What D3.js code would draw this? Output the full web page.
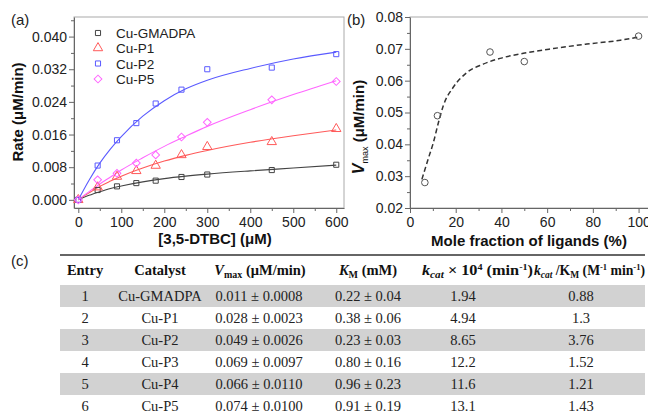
<html>
<head>
<meta charset="UTF-8">
<title>Cu catalysts kinetics</title>
<script src="https://d3js.org/d3.v7.min.js"></script>
<style>
  body { margin: 0; background: #fff; }
  .tick text { font: 14px "Liberation Sans", Arial, sans-serif; fill: #222; }
  .axis path, .axis line { stroke: #666; }
  .lbl { font: 15px "Liberation Sans", Arial, sans-serif; fill: #222; }
  .leg { font: 13.5px "Liberation Sans", Arial, sans-serif; fill: #222; }
  .ttl { font: bold 15px "Liberation Sans", Arial, sans-serif; fill: #111; }
  .tbl { font: 14.5px "Liberation Serif", "Times New Roman", serif; fill: #222; }
  .tblh { font: bold 14.5px "Liberation Serif", "Times New Roman", serif; fill: #111; }
</style>
</head>
<body>
<svg width="648" height="419"></svg>
<script>
// ---- panel (a) data: initial rate vs [3,5-DTBC]
var rateX = [0, 45, 90, 135, 180, 240, 300, 450, 600];
var rateGMADPA = [0, 0.0024, 0.0033, 0.0041, 0.0047, 0.0056, 0.0062, 0.0073, 0.0086];
var rateP1 = [0, 0.0031, 0.0057, 0.0071, 0.0084, 0.0110, 0.0130, 0.0142, 0.0174];
var rateP2 = [0, 0.0084, 0.0146, 0.0188, 0.0236, 0.0270, 0.0320, 0.0324, 0.0357];
var rateP5 = [0, 0.0049, 0.0065, 0.0090, 0.0110, 0.0154, 0.0190, 0.0245, 0.0290];
// fitted curves
var fitX = [0, 25, 50, 75, 100, 150, 200, 250, 300, 400, 500, 600];
var fitGMADPA = [0, 0.0011, 0.0020, 0.0028, 0.0034, 0.0044, 0.0052, 0.0058, 0.0063, 0.0071, 0.0078, 0.0085];
var fitP1 = [0, 0.0017, 0.0033, 0.0046, 0.0058, 0.0078, 0.0095, 0.0109, 0.0121, 0.0141, 0.0157, 0.0171];
var fitP2 = [0, 0.0048, 0.0090, 0.0125, 0.0155, 0.0205, 0.0243, 0.0272, 0.0293, 0.0322, 0.0345, 0.0362];
var fitP5 = [0, 0.0020, 0.0039, 0.0056, 0.0073, 0.0103, 0.0131, 0.0156, 0.0180, 0.0221, 0.0258, 0.0292];
var seriesNames = ['Cu-GMADPA', 'Cu-P1', 'Cu-P2', 'Cu-P5'];
var rateTicks = [0, 0.008, 0.016, 0.024, 0.032, 0.040];
var concTicks = [0, 100, 200, 300, 400, 500, 600];

// ---- panel (b) data: Vmax vs mole fraction
var moleFrac = [6.5, 12, 35, 50, 100];
var vmaxVals = [0.028, 0.049, 0.069, 0.066, 0.074];
var vfitX = [5.2, 8, 10.2, 12.5, 14.6, 19, 24.8, 32, 39.4, 49.6, 62.8, 77.4, 92, 100];
var vfitY = [0.029, 0.0355, 0.0405, 0.047, 0.0522, 0.0580, 0.0625, 0.0652, 0.0670, 0.0686, 0.0701, 0.0715, 0.0727, 0.0737];
var vTicks = [0.02, 0.03, 0.04, 0.05, 0.06, 0.07, 0.08];
var fracTicks = [0, 20, 40, 60, 80, 100];

// ---- panel (c) table
var entries = ['1', '2', '3', '4', '5', '6'];
var catalysts = ['Cu-GMADPA', 'Cu-P1', 'Cu-P2', 'Cu-P3', 'Cu-P4', 'Cu-P5'];
var vmaxText = ['0.011 \u00b1 0.0008', '0.028 \u00b1 0.0023', '0.049 \u00b1 0.0026', '0.069 \u00b1 0.0097', '0.066 \u00b1 0.0110', '0.074 \u00b1 0.0100'];
var kmText = ['0.22 \u00b1 0.04', '0.38 \u00b1 0.06', '0.23 \u00b1 0.03', '0.80 \u00b1 0.16', '0.96 \u00b1 0.23', '0.91 \u00b1 0.19'];
var kcatText = ['1.94', '4.94', '8.65', '12.2', '11.6', '13.1'];
var ratioText = ['0.88', '1.3', '3.76', '1.52', '1.21', '1.43'];

var svg = d3.select('svg');
var colors = ['#444', '#ff5a5a', '#5a5aff', '#ff66ff'];

// ================= panel (a)
var ax = { left: 74, right: 344, top: 17, bottom: 208 };
var xa = d3.scaleLinear().domain([-10, 618]).range([ax.left, ax.right]);
var ya = d3.scaleLinear().domain([-0.002, 0.0448]).range([ax.bottom, ax.top]);

svg.append('rect').attr('x', ax.left).attr('y', ax.top)
  .attr('width', ax.right - ax.left).attr('height', ax.bottom - ax.top)
  .attr('fill', 'none').attr('stroke', '#aaa');

function minorAxis(g, axisFn, scale, vals) {
  g.append('g').attr('class', 'axis').call(axisFn(scale).tickValues(vals).tickSize(3).tickFormat(''))
    .select('.domain').remove();
}

var gxa = svg.append('g').attr('transform', 'translate(0,' + ax.bottom + ')');
gxa.append('g').attr('class', 'axis')
  .call(d3.axisBottom(xa).tickValues(concTicks).tickSize(5).tickPadding(4).tickSizeOuter(0));
minorAxis(gxa, d3.axisBottom, xa, [50, 150, 250, 350, 450, 550]);

var gya = svg.append('g').attr('transform', 'translate(' + ax.left + ',0)');
gya.append('g').attr('class', 'axis')
  .call(d3.axisLeft(ya).tickValues(rateTicks).tickFormat(d3.format('.3f')).tickSize(5).tickPadding(2).tickSizeOuter(0));
minorAxis(gya, d3.axisLeft, ya, [0.004, 0.012, 0.020, 0.028, 0.036, 0.044]);

svg.append('text').attr('class', 'ttl').attr('text-anchor', 'middle')
  .attr('x', 215).attr('y', 244).text('[3,5-DTBC] (\u03bcM)');
svg.append('text').attr('class', 'ttl').attr('text-anchor', 'middle')
  .attr('transform', 'translate(23,112) rotate(-90)').text('Rate (\u03bcM/min)');

var fits = [fitGMADPA, fitP1, fitP2, fitP5];
var rates = [rateGMADPA, rateP1, rateP2, rateP5];
var lineA = d3.line().x(function (d) { return xa(d[0]); }).y(function (d) { return ya(d[1]); })
  .curve(d3.curveMonotoneX);

fits.forEach(function (f, i) {
  svg.append('path').datum(fitX.map(function (x, j) { return [x, f[j]]; }))
    .attr('d', lineA).attr('fill', 'none').attr('stroke', colors[i]).attr('stroke-width', 1.1);
});

var symbols = [
  d3.symbol().type(d3.symbolSquare).size(26),
  d3.symbol().type(d3.symbolTriangle).size(38),
  d3.symbol().type(d3.symbolSquare).size(26),
  d3.symbol().type(d3.symbolSquare).size(30)
];
var rotations = [0, 0, 0, 45];

rates.forEach(function (r, i) {
  svg.append('g').selectAll('path').data(rateX.map(function (x, j) { return [x, r[j]]; }))
    .enter().append('path')
    .attr('transform', function (d) { return 'translate(' + xa(d[0]) + ',' + ya(d[1]) + ') rotate(' + rotations[i] + ')'; })
    .attr('d', symbols[i]()).attr('fill', 'none').attr('stroke', colors[i]).attr('stroke-width', 1);
});

// legend
var legY = [33, 48, 63.5, 79];
seriesNames.forEach(function (n, i) {
  svg.append('path').attr('transform', 'translate(98,' + legY[i] + ') rotate(' + rotations[i] + ')')
    .attr('d', symbols[i]()).attr('fill', 'none').attr('stroke', colors[i]);
  svg.append('text').attr('class', 'leg').attr('x', 116).attr('y', legY[i] + 5).text(n);
});

svg.append('text').attr('class', 'lbl').attr('x', 11).attr('y', 25).text('(a)');

// ================= panel (b)
var bx = { left: 410, right: 650, top: 17, bottom: 208 };
var xb = d3.scaleLinear().domain([0, 105]).range([bx.left, bx.right]);
var yb = d3.scaleLinear().domain([0.02, 0.08]).range([bx.bottom, bx.top]);

svg.append('rect').attr('x', bx.left).attr('y', bx.top)
  .attr('width', bx.right - bx.left).attr('height', bx.bottom - bx.top)
  .attr('fill', 'none').attr('stroke', '#aaa');

var gxb = svg.append('g').attr('transform', 'translate(0,' + bx.bottom + ')');
gxb.append('g').attr('class', 'axis')
  .call(d3.axisBottom(xb).tickValues(fracTicks).tickSize(5).tickPadding(4).tickSizeOuter(0));
minorAxis(gxb, d3.axisBottom, xb, [10, 30, 50, 70, 90]);

var gyb = svg.append('g').attr('transform', 'translate(' + bx.left + ',0)');
gyb.append('g').attr('class', 'axis')
  .call(d3.axisLeft(yb).tickValues(vTicks).tickFormat(d3.format('.2f')).tickSize(5).tickPadding(2).tickSizeOuter(0));
minorAxis(gyb, d3.axisLeft, yb, [0.025, 0.035, 0.045, 0.055, 0.065, 0.075]);

svg.append('text').attr('class', 'ttl').attr('text-anchor', 'middle')
  .attr('x', 529).attr('y', 246).text('Mole fraction of ligands (%)');

var vt = svg.append('text').attr('class', 'ttl').attr('text-anchor', 'middle')
  .attr('transform', 'translate(364,127) rotate(-90)');
vt.append('tspan').attr('font-style', 'italic').attr('font-size', 16).text('V');
vt.append('tspan').attr('font-size', 9).attr('font-weight', 'normal').attr('dy', 4).text('max');
vt.append('tspan').attr('dy', -4).text(' (\u03bcM/min)');

var lineB = d3.line().x(function (d) { return xb(d[0]); }).y(function (d) { return yb(d[1]); })
  .curve(d3.curveMonotoneX);
svg.append('path').datum(vfitX.map(function (x, j) { return [x, vfitY[j]]; }))
  .attr('d', lineB).attr('fill', 'none').attr('stroke', '#333')
  .attr('stroke-width', 1.5).attr('stroke-dasharray', '5,3');

svg.append('g').selectAll('circle').data(moleFrac.map(function (x, j) { return [x, vmaxVals[j]]; }))
  .enter().append('circle')
  .attr('cx', function (d) { return xb(d[0]); }).attr('cy', function (d) { return yb(d[1]); })
  .attr('r', 3.3).attr('fill', 'none').attr('stroke', '#555');

svg.append('text').attr('class', 'lbl').attr('x', 347).attr('y', 25).text('(b)');

// ================= panel (c) table
svg.append('text').attr('class', 'lbl').attr('x', 11).attr('y', 266).text('(c)');

var tLeft = 60, tRight = 645, rowTop = 285, rowH = 22;
svg.append('line').attr('x1', tLeft).attr('x2', tRight).attr('y1', 255).attr('y2', 255)
  .attr('stroke', '#333').attr('stroke-width', 1.5);

var rows = d3.range(entries.length);
svg.append('g').selectAll('rect').data(rows.filter(function (i) { return i % 2 === 0; }))
  .enter().append('rect')
  .attr('x', tLeft).attr('width', tRight - tLeft)
  .attr('y', function (i) { return rowTop + i * rowH; }).attr('height', rowH)
  .attr('fill', '#d2d2d2');

// header
var hy = 275;
function hdr(x, anchor) {
  return svg.append('text').attr('class', 'tblh').attr('x', x).attr('y', hy).attr('text-anchor', anchor);
}
hdr(85, 'middle').text('Entry');
hdr(160, 'middle').text('Catalyst');
var h3 = hdr(260, 'middle');
h3.append('tspan').attr('font-style', 'italic').text('V');
h3.append('tspan').attr('font-size', 10).attr('dy', 3).text('max');
h3.append('tspan').attr('dy', -3).text(' (\u03bcM/min)');
var h4 = hdr(368, 'middle');
h4.append('tspan').attr('font-style', 'italic').text('K');
h4.append('tspan').attr('font-size', 10).attr('dy', 3).text('M');
h4.append('tspan').attr('dy', -3).text(' (mM)');
var h5 = hdr(422, 'start').attr('textLength', 111).attr('lengthAdjust', 'spacingAndGlyphs');
h5.append('tspan').attr('font-style', 'italic').text('k');
h5.append('tspan').attr('font-style', 'italic').attr('font-size', 10).attr('dy', 3).text('cat');
h5.append('tspan').attr('dy', -3).text(' \u00d7 10');
h5.append('tspan').attr('font-size', 9).attr('dy', -5).text('4');
h5.append('tspan').attr('dy', 5).text(' (min');
h5.append('tspan').attr('font-size', 9).attr('dy', -5).text('-1');
h5.append('tspan').attr('dy', 5).text(')');
var h6 = hdr(534, 'start').attr('textLength', 111).attr('lengthAdjust', 'spacingAndGlyphs');
h6.append('tspan').attr('font-style', 'italic').text('k');
h6.append('tspan').attr('font-style', 'italic').attr('font-size', 10).attr('dy', 3).text('cat');
h6.append('tspan').attr('dy', -3).text(' /K');
h6.append('tspan').attr('font-size', 10).attr('dy', 3).text('M');
h6.append('tspan').attr('dy', -3).text(' (M');
h6.append('tspan').attr('font-size', 9).attr('dy', -5).text('-1');
h6.append('tspan').attr('dy', 5).text(' min');
h6.append('tspan').attr('font-size', 9).attr('dy', -5).text('-1');
h6.append('tspan').attr('dy', 5).text(')');

var cols = [
  { x: 85, vals: entries },
  { x: 160, vals: catalysts },
  { x: 259, vals: vmaxText },
  { x: 368, vals: kmText },
  { x: 463, vals: kcatText },
  { x: 581, vals: ratioText }
];
cols.forEach(function (c) {
  svg.append('g').selectAll('text').data(c.vals).enter().append('text')
    .attr('class', 'tbl').attr('text-anchor', 'middle')
    .attr('x', c.x).attr('y', function (d, i) { return rowTop + i * rowH + 15.5; })
    .text(function (d) { return d; });
});
</script>
</body>
</html>
